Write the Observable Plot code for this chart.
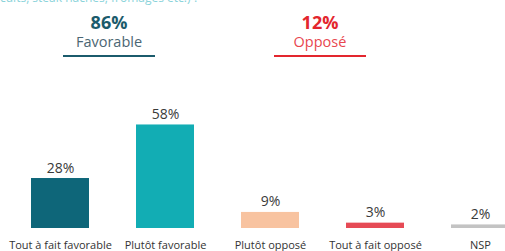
<!DOCTYPE html>
<html><head><meta charset="utf-8">
<script src="https://cdn.jsdelivr.net/npm/d3@7"></script>
<script src="https://cdn.jsdelivr.net/npm/@observablehq/plot@0.6"></script>
<style>
html,body{margin:0;padding:0;background:#fff;overflow:hidden;}
body{width:505px;height:251px;font-family:"Open Sans","Noto Sans",sans-serif;}
#head{position:relative;height:62px;width:505px;}
.q{position:absolute;left:0;top:-11px;font-size:12px;color:#8ad3da;white-space:nowrap;}
.grp{position:absolute;top:12px;width:92px;text-align:center;}
.pct{font-weight:700;font-size:18px;line-height:20px;}
.lab{font-size:14.5px;line-height:20px;margin-top:0px;padding-bottom:3px;border-bottom:2.5px solid;}
</style></head>
<body>
<div id="head"></div>
<div id="chart"></div>
<script>
const categories = ["Tout à fait favorable", "Plutôt favorable", "Plutôt opposé", "Tout à fait opposé", "NSP"];
const values = [28, 58, 9, 3, 2];
const colors = ["#0e6679", "#12adb4", "#f8c3a0", "#e64a55", "#c3c3c3"];
const groupLabels = ["Favorable", "Opposé"];
const groupValues = [86, 12];
const groupColors = ["#1b5b6c", "#e3262e"];
const groupTextColors = ["#4b6673", "#e8474f"];
const questionTail = "cuits, steak hachés, fromages etc.) ?";

const head = document.getElementById("head");
const q = document.createElement("div");
q.className = "q"; q.textContent = questionTail; head.appendChild(q);
const groupLeft = [63, 274];
groupLabels.forEach((g, i) => {
  const d = document.createElement("div");
  d.className = "grp"; d.style.left = groupLeft[i] + "px";
  d.innerHTML = `<div class="pct" style="color:${groupColors[i]}">${groupValues[i]}%</div><div class="lab" style="color:${groupTextColors[i]};border-color:${groupColors[i]}">${g}</div>`;
  head.appendChild(d);
});

const data = categories.map((c, i) => ({cat: c, value: values[i], color: colors[i]}));

const chart = Plot.plot({
  width: 505,
  height: 189,
  marginLeft: 0, marginRight: 0, marginTop: 0, marginBottom: 23,
  style: {fontFamily: "'Open Sans','Noto Sans',sans-serif", color: "#404040", background: "transparent"},
  x: {type: "band", domain: categories, range: [5.8, 533.3], paddingInner: 0.45, paddingOuter: 0.225, label: null},
  y: {domain: [0, 60], range: [166, 166 - 60 * 1.785], axis: null},
  marks: [
    Plot.barY(data, {x: "cat", y: "value", fill: "color"}),
    Plot.text(data, {x: "cat", y: "value", text: d => d.value + "%", lineAnchor: "bottom", dy: -6, fontSize: 14, fill: "#3a3a3a"}),
    Plot.axisX({tickSize: 0, tickPadding: 13, fontSize: 11, label: null, color: "#333"})
  ]
});
document.getElementById("chart").appendChild(chart);
</script>
</body></html>
